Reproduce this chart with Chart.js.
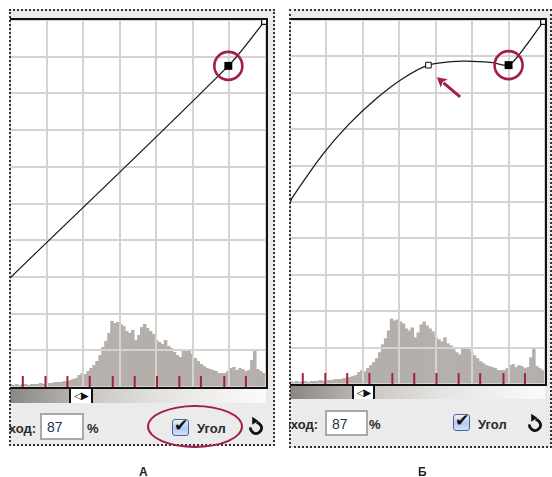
<!DOCTYPE html>
<html>
<head>
<meta charset="utf-8">
<script src="https://cdn.jsdelivr.net/npm/chart.js@4.4.0/dist/chart.umd.min.js"></script>
<style>
  body { margin: 0; background: #fff; width: 552px; height: 477px; position: relative; overflow: hidden;
         font-family: "Liberation Sans", Arial, sans-serif; }
  .panel { position: absolute; background: #ebebeb; overflow: hidden; }
  .frame { position: absolute; left: 0; top: 0; right: 0; bottom: 0; border: 2px dotted #333; pointer-events: none; }
  .plot { position: absolute; background: #fff; border-top: 2px solid #111; border-right: 2px solid #111; border-bottom: 2px solid #111; }
  .plot canvas { display: block; }
  .grad { position: absolute; background: linear-gradient(to right, #8a8682 0%, #b2aeaa 22%, #cbc8c5 33%, #e6e4e2 60%, #fbfbfb 100%); }
  .handle { position: absolute; background: #fff; border-left: 2px solid #111; border-right: 2px solid #111; box-sizing: border-box;
            font: 10px "DejaVu Sans"; line-height: 13px; text-align: center; color: #111; letter-spacing: -1px; }
  .lbl { position: absolute; font-weight: bold; font-size: 13px; color: #2a2a2a; white-space: nowrap; }
  .field { position: absolute; background: #fff; border: 2px solid #a9a9a9; box-sizing: border-box; font-size: 14px;
           color: #24304f; padding: 4px 0 0 5px; }
  .cb { position: absolute; width: 15px; height: 15px; border: 1px solid #4d6394; border-radius: 3px;
        background: linear-gradient(#eef4fc, #b3cbee 55%, #d2e2f8); }
  .cb span { position: absolute; left: 1px; top: -5px; font: bold 17px "DejaVu Sans"; color: #111; }
  .refresh { position: absolute; width: 8px; height: 8px; border: 3px solid #111; border-radius: 50%; border-top-color: transparent;
             transform: rotate(-40deg); }
  .refresh:after { content: ""; position: absolute; left: 5px; top: -6px; border-top: 4px solid transparent; border-bottom: 4px solid transparent;
                   border-left: 6px solid #111; transform: rotate(40deg); }
  .ring { position: absolute; border: 2.5px solid #a31d4d; border-radius: 50%; box-sizing: border-box; }
  .cap { position: absolute; font-weight: bold; font-size: 12px; color: #222; }
</style>
</head>
<body>

<div class="panel" style="left:9px;top:9px;width:266px;height:437px">
  <div class="plot" style="left:1px;top:9px"><canvas id="curvesA" width="256" height="367"></canvas></div>
  <div class="grad" style="left:1px;top:380px;width:256px;height:14px"></div>
  <div class="handle" style="left:60px;top:380px;width:24px;height:14px">◁▶</div>
  <div class="lbl" style="right:239px;top:412px">Выход:</div>
  <div class="field" style="left:31px;top:404px;width:44px;height:27px">87</div>
  <div class="lbl" style="left:78px;top:412px">%</div>
  <div class="cb" style="left:163px;top:410px"><span>✔</span></div>
  <div class="lbl" style="left:188px;top:412px">Угол</div>
  <div class="refresh" style="left:240px;top:412px"></div>
  <div class="frame"></div>
</div>
<div class="ring" style="left:147px;top:405px;width:96px;height:43px"></div>

<div class="panel" style="left:289px;top:9px;width:263px;height:439px">
  <div class="plot" style="left:1px;top:9px"><canvas id="curvesB" width="255" height="364"></canvas></div>
  <div class="grad" style="left:1px;top:377px;width:255px;height:13px"></div>
  <div class="handle" style="left:63px;top:377px;width:23px;height:13px">◁▶</div>
  <div class="lbl" style="right:234px;top:408px">Выход:</div>
  <div class="field" style="left:36px;top:401px;width:43px;height:26px">87</div>
  <div class="lbl" style="left:80px;top:408px">%</div>
  <div class="cb" style="left:164px;top:405px"><span>✔</span></div>
  <div class="lbl" style="left:189px;top:408px">Угол</div>
  <div class="refresh" style="left:239px;top:409px"></div>
  <div class="frame"></div>
</div>

<div class="cap" style="left:139px;top:465px">А</div>
<div class="cap" style="left:418px;top:465px">Б</div>

<script>
// grid units: input 3..10 visible (left part of the dialog is cropped), output 0..10
const inputMin = 3, inputMax = 10;
const outputMin = 0, outputMax = 10;

// curve A - almost straight line with one corner point
const curveAX = [3, 8.97, 9.95];
const curveAY = [2.97, 8.75, 9.95];
const cornerAX = [8.97];
const cornerAY = [8.75];

// curve B - point moved up, curve flattens
const curveBX = [3, 3.05, 3.91, 4.60, 5.38, 6.11, 6.80, 7.75, 8.57, 9.00, 9.39, 9.95];
const curveBY = [4.97, 5.10, 6.32, 7.12, 7.85, 8.40, 8.76, 8.87, 8.83, 8.76, 9.18, 9.95];
const cornerBX = [9.00];
const cornerBY = [8.76];
const smoothBX = [6.80];
const smoothBY = [8.76];

// end point in top right corner
const endX = [9.95];
const endY = [9.95];

// histogram of the image (relative counts)
const histCounts = [2, 1, 2, 1, 2, 2, 1, 2, 2, 2, 3, 2, 3, 3, 3, 4, 4, 4, 5, 5,
  6, 7, 8, 11, 13, 12, 15, 18, 21, 25, 31, 39, 45, 53, 65, 63, 64, 62, 60, 55,
  53, 56, 46, 51, 59, 62, 58, 55, 52, 46, 44, 42, 46, 40, 38, 34, 31, 29, 35, 36,
  35, 32, 28, 25, 22, 20, 18, 17, 16, 15, 13, 13, 13, 15, 18, 19, 16, 18, 17, 15,
  16, 26, 36, 17, 15, 13];
const histMax = 367;

// red clipping marks along the bottom
const clipMarks = [3.35, 3.97, 4.57, 5.18, 5.81, 6.41, 7.02, 7.63, 8.22, 8.86, 9.45];
const clipLevel = 0.15;

// arrow in B pointing at the new point
const arrowFrom = [7.67, 7.89];
const arrowTo = [7.03, 8.43];

const RED = '#a31d4d';
const MARK_RED = '#a3203f';

// redraw grid on top of the histogram
const gridOverHist = {
    id: 'gridOverHist',
    afterDatasetDraw(chart, args) {
        if (args.index !== 0) return;
        chart.scales.x.drawGrid(chart.chartArea);
        chart.scales.y.drawGrid(chart.chartArea);
    }
};

const noteArrow = {
    id: 'noteArrow',
    afterDatasetsDraw(chart, args, opts) {
        if (!opts.from) return;
        const sx = chart.scales.x, sy = chart.scales.y;
        const x1 = sx.getPixelForValue(opts.from[0]), y1 = sy.getPixelForValue(opts.from[1]);
        const x2 = sx.getPixelForValue(opts.to[0]), y2 = sy.getPixelForValue(opts.to[1]);
        const ang = Math.atan2(y2 - y1, x2 - x1);
        const head = 11;
        const ctx = chart.ctx;
        ctx.save();
        ctx.strokeStyle = RED;
        ctx.fillStyle = RED;
        ctx.lineWidth = 3;
        ctx.beginPath();
        ctx.moveTo(x1, y1);
        ctx.lineTo(x2 - Math.cos(ang) * head * 0.8, y2 - Math.sin(ang) * head * 0.8);
        ctx.stroke();
        ctx.beginPath();
        ctx.moveTo(x2, y2);
        ctx.lineTo(x2 - head * Math.cos(ang - 0.5), y2 - head * Math.sin(ang - 0.5));
        ctx.lineTo(x2 - head * 0.7 * Math.cos(ang), y2 - head * 0.7 * Math.sin(ang));
        ctx.lineTo(x2 - head * Math.cos(ang + 0.5), y2 - head * Math.sin(ang + 0.5));
        ctx.closePath();
        ctx.fill();
        ctx.restore();
    }
};

function toPoints(xs, ys) {
    return xs.map((x, i) => ({ x: x, y: ys[i] }));
}

function buildCurves(canvasId, curveX, curveY, cornerX, cornerY, smoothX, smoothY, arrow) {
    const canvas = document.getElementById(canvasId);
    if (!canvas) {
        console.error('Canvas not found:', canvasId);
        return;
    }
    const gridOpts = { color: '#d6d2ce', lineWidth: 2, drawTicks: false };

    new Chart(canvas.getContext('2d'), {
        type: 'scatter',
        data: {
            datasets: [
                {
                    type: 'bar',
                    data: histCounts,
                    xAxisID: 'xh',
                    yAxisID: 'yh',
                    backgroundColor: '#b4afaa',
                    borderColor: '#b4afaa',
                    borderWidth: 0,
                    inflateAmount: 1,
                    barPercentage: 1,
                    categoryPercentage: 1,
                    order: 6
                },
                {
                    data: clipMarks.map(x => ({ x: x, y: clipLevel })),
                    pointStyle: 'line',
                    rotation: 90,
                    pointRadius: 5.5,
                    borderColor: MARK_RED,
                    borderWidth: 2,
                    order: 5
                },
                {
                    type: 'line',
                    data: toPoints(curveX, curveY),
                    borderColor: '#1b1b1b',
                    borderWidth: 1.3,
                    pointRadius: 0,
                    tension: 0.3,
                    order: 4
                },
                {
                    data: toPoints(smoothX, smoothY),
                    pointStyle: 'rect',
                    pointRadius: 4,
                    backgroundColor: '#fff',
                    borderColor: '#111',
                    borderWidth: 1,
                    order: 3
                },
                {
                    data: toPoints(endX, endY),
                    pointStyle: 'rect',
                    pointRadius: 3.6,
                    backgroundColor: '#fff',
                    borderColor: '#111',
                    borderWidth: 1.3,
                    order: 3
                },
                {
                    data: toPoints(cornerX, cornerY),
                    pointStyle: 'rect',
                    pointRadius: 5.6,
                    backgroundColor: '#000',
                    borderColor: '#000',
                    borderWidth: 0,
                    order: 2
                },
                {
                    data: toPoints(cornerX, cornerY),
                    pointStyle: 'circle',
                    pointRadius: 14,
                    backgroundColor: 'rgba(0,0,0,0)',
                    borderColor: RED,
                    borderWidth: 2.6,
                    order: 1
                }
            ]
        },
        options: {
            responsive: false,
            animation: false,
            events: [],
            layout: { padding: 0, autoPadding: false },
            scales: {
                x: {
                    type: 'linear', min: inputMin, max: inputMax,
                    ticks: { display: false, stepSize: 1 },
                    grid: gridOpts,
                    border: { display: false }
                },
                y: {
                    type: 'linear', min: outputMin, max: outputMax,
                    ticks: { display: false, stepSize: 1 },
                    grid: gridOpts,
                    border: { display: false }
                },
                xh: {
                    type: 'category',
                    labels: histCounts.map((v, i) => String(i)),
                    display: false
                },
                yh: {
                    type: 'linear', min: 0, max: histMax,
                    display: false
                }
            },
            plugins: {
                legend: { display: false },
                tooltip: { enabled: false },
                noteArrow: arrow || {}
            }
        },
        plugins: [gridOverHist, noteArrow]
    });
}

buildCurves('curvesA', curveAX, curveAY, cornerAX, cornerAY, [], [], null);
buildCurves('curvesB', curveBX, curveBY, cornerBX, cornerBY, smoothBX, smoothBY, { from: arrowFrom, to: arrowTo });
</script>
</body>
</html>
